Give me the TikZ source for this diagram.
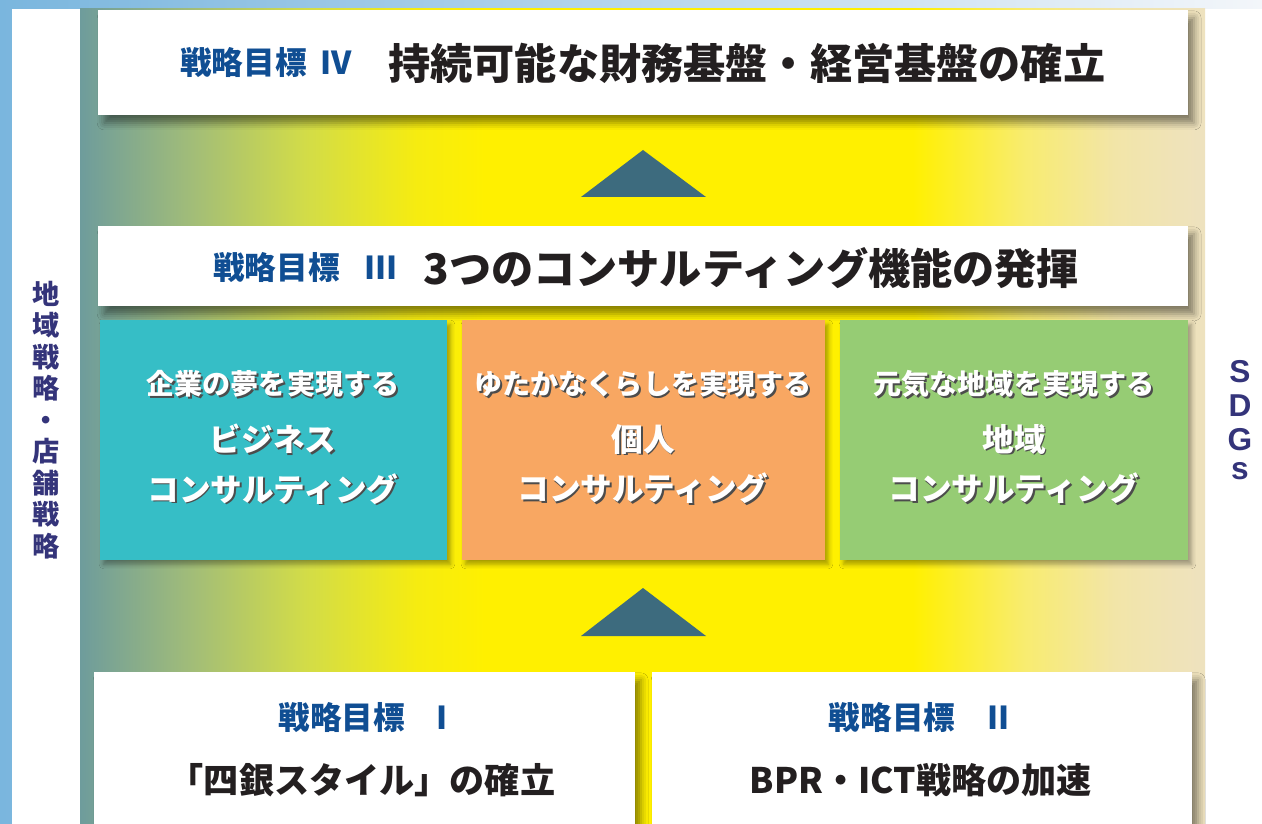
\documentclass[tikz,border=0pt]{standalone}
\usepackage{fontspec}
\newfontfamily\jp{Noto Sans CJK JP}
\newfontfamily\lat{Liberation Sans}
\usetikzlibrary{shadows.blur}

\definecolor{goalblue}{HTML}{104E93}
\definecolor{titleblack}{HTML}{231F20}
\definecolor{sidenavy}{HTML}{34347A}
\definecolor{arrowslate}{HTML}{3D6B7E}
\definecolor{bizteal}{HTML}{36BEC6}
\definecolor{lifeorange}{HTML}{F8A762}
\definecolor{areagreen}{HTML}{96CC74}
\definecolor{skyblue}{HTML}{7AB6DE}
\definecolor{skywhite}{HTML}{F3F6FA}
\definecolor{bgA}{HTML}{6E9C9C}
\definecolor{bgB}{HTML}{A2BD78}
\definecolor{bgC}{HTML}{D2DC48}
\definecolor{bgD}{HTML}{F6EC10}
\definecolor{bgE}{HTML}{FFF000}
\definecolor{bgF}{HTML}{F8EC70}
\definecolor{bgG}{HTML}{F2E5A8}
\definecolor{bgH}{HTML}{EEE2BF}

\pgfdeclarehorizontalshading{fieldshade}{100bp}{color(0bp)=(bgA); color(25bp)=(bgA); color(30bp)=(bgB); color(35bp)=(bgC); color(40bp)=(bgD); color(43bp)=(bgE); color(62bp)=(bgE); color(67bp)=(bgF); color(71bp)=(bgG); color(75bp)=(bgH); color(100bp)=(bgH)}

% white text with a dark offset copy behind it
\newcommand\shtext[1]{\leavevmode\rlap{\kern1pt\raisebox{-1pt}{\color{black!70}#1}}{\color{white}#1}}

\tikzset{
	goalbox/.style={fill=white, inner sep=0pt, blur shadow={shadow xshift=3.5pt, shadow yshift=-4.5pt, shadow blur radius=4pt, shadow opacity=45}},
	funcbox/.style={fill=#1, inner sep=0pt, minimum width=6.96cm, minimum height=4.8cm, blur shadow={shadow xshift=2pt, shadow yshift=-2.5pt, shadow blur radius=2.5pt, shadow opacity=35}},
	goallabel/.style={font=\jp\bfseries\fontsize{18}{20}\selectfont, text=goalblue, inner sep=0pt},
	goaltitle/.style={font=\jp\bfseries\fontsize{24}{28}\selectfont, text=titleblack, inner sep=0pt},
	basetitle/.style={font=\jp\bfseries\fontsize{20}{24}\selectfont, text=titleblack, inner sep=0pt},
	funcaim/.style={font=\jp\bfseries\fontsize{16}{19}\selectfont, inner sep=0pt},
	funcname/.style={font=\jp\bfseries\fontsize{18}{28.3}\selectfont, align=center, inner sep=0pt},
	uparrow/.style={fill=arrowslate}
}

\begin{document}
\begin{tikzpicture}[x=0.02cm,y=-0.02cm]
	% Background
	\useasboundingbox (0,0) rectangle (1262,824);
	\shade[left color=skyblue, right color=skywhite] (0,0) rectangle (1262,824);
	\fill[white] (12,9) rectangle (80,824);
	\fill[white] (1205,9) rectangle (1262,824);
	\shade[shading=fieldshade] (80,9) rectangle (1205,824);
	% Side labels
	\node[font=\jp\bfseries\fontsize{15.5}{17.9}\selectfont, text=sidenavy, align=center, inner sep=0pt] (regional) at (46,420) {地\\域\\戦\\略\\・\\店\\舗\\戦\\略};
	\node[font=\lat\bfseries\fontsize{18}{19.3}\selectfont, text=sidenavy, align=center, inner sep=0pt] (sdgs) at (1240,420) {S\\D\\G\\[-3pt]s};
	% Goal IV
	\node[goalbox, minimum width=21.8cm, minimum height=2.1cm] (goalIV) at (643,62.5) {};
	\node[goallabel, anchor=west] (labelIV) at (180,63) {戦略目標\hspace{8pt}IV};
	\node[goaltitle, anchor=west] (titleIV) at (388,63) {持続可能な財務基盤・経営基盤の確立};
	\fill[uparrow] (643,150) -- (706,197) -- (581,197) -- cycle;
	% Goal III
	\node[goalbox, minimum width=21.8cm, minimum height=1.6cm] (goalIII) at (643,266) {};
	\node[goallabel, anchor=west] (labelIII) at (213,268) {戦略目標\hspace{14pt}III};
	\node[goaltitle, anchor=west] (titleIII) at (423,268) {3つのコンサルティング機能の発揮};
	% Consulting functions
	\node[funcbox=bizteal, minimum width=6.94cm] (business) at (273.5,440) {};
	\node[funcbox=lifeorange, minimum width=7.26cm] (personal) at (643.5,440) {};
	\node[funcbox=areagreen] (regionfn) at (1014,440) {};
	\node[funcaim] (businessaim) at (273,385) {\shtext{企業の夢を実現する}};
	\node[funcaim] (personalaim) at (643,385) {\shtext{ゆたかなくらしを実現する}};
	\node[funcaim] (regionaim) at (1014,385) {\shtext{元気な地域を実現する}};
	\node[funcname] (businessname) at (273,465) {\shtext{ビジネス}\\\shtext{コンサルティング}};
	\node[funcname] (personalname) at (643,465) {\shtext{個人}\\\shtext{コンサルティング}};
	\node[funcname] (regionname) at (1014,465) {\shtext{地域}\\\shtext{コンサルティング}};
	\fill[uparrow] (643,588) -- (706,636) -- (581,636) -- cycle;
	% Goals I and II
	\node[goalbox, minimum width=10.82cm, minimum height=3.36cm] (goalI) at (364.5,756) {};
	\node[goalbox, minimum width=10.8cm, minimum height=3.36cm] (goalII) at (922,756) {};
	\node[goallabel] (labelI) at (363,718) {戦略目標\hspace{18pt}I};
	\node[basetitle] (titleI) at (362,780) {「四銀スタイル」の確立};
	\node[goallabel] (labelII) at (919,718) {戦略目標\hspace{18pt}II};
	\node[basetitle] (titleII) at (921,780) {BPR・ICT戦略の加速};
\end{tikzpicture}
\end{document}
